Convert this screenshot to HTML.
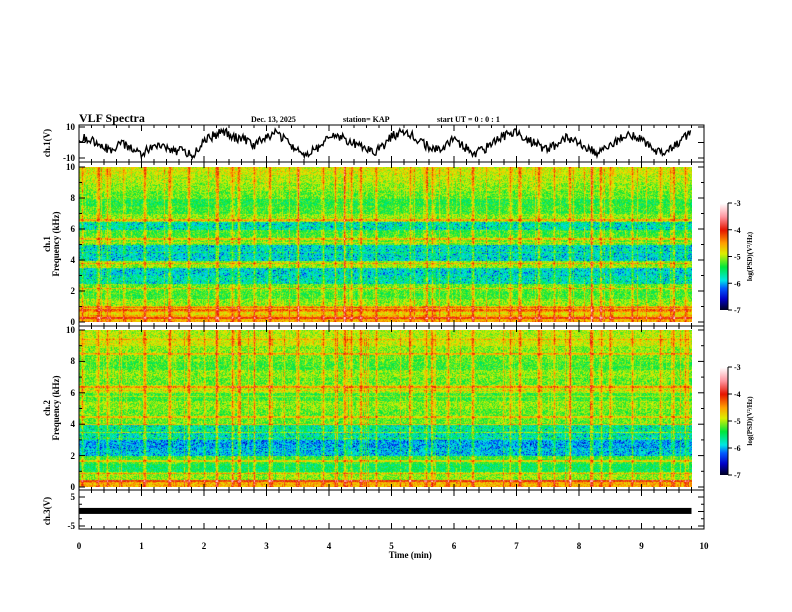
<!DOCTYPE html>
<html><head><meta charset="utf-8"><style>
body{margin:0;background:#fff;width:792px;height:612px;overflow:hidden;position:relative;font-family:"Liberation Serif",serif}
canvas{position:absolute}
svg{position:absolute;left:0;top:0}
text{font-family:"Liberation Serif",serif;font-weight:bold;fill:#000}
</style></head><body>
<canvas id="spec1" width="613" height="155" style="left:79px;top:167px"></canvas>
<canvas id="spec2" width="613" height="157" style="left:79px;top:330px"></canvas>
<canvas id="cb1" width="8" height="107" style="left:720px;top:203px"></canvas>
<canvas id="cb2" width="8" height="108" style="left:720px;top:367px"></canvas>
<svg id="svg" width="792" height="612"></svg>
<script>
// ---- data ----
const bandFreqs=[0,0.5,1,1.5,2,2.5,3,3.5,4,4.5,5,5.5,6,6.5,7,7.5,8,8.5,9,9.5];
const ch1Bands=[-4.6,-4.8,-5.1,-5.3,-5.2,-5.7,-5.8,-5.1,-5.8,-5.8,-5.2,-5.3,-5.7,-5.1,-5.3,-5.4,-5.2,-5.1,-5.0,-4.9];
const ch2Bands=[-4.6,-5.1,-5.5,-5.3,-5.9,-6.0,-5.7,-5.6,-5.2,-5.2,-5.1,-5.3,-5.0,-5.2,-5.1,-5.3,-5.2,-5.1,-4.9,-5.0];
const ch1Lines=[0.3,0.8,1.0,2.2,3.8,5.4,6.6];
const ch2Lines=[0.4,0.9,1.7,3.5,4.0,4.5,6.4,8.5];
const stripeTimes=[0.05,0.3,0.45,1.05,1.45,1.75,2.2,2.45,2.55,2.8,3.05,3.5,3.9,4.1,4.25,4.35,4.5,4.75,5.3,5.55,5.65,5.9,6.3,6.9,7.05,7.35,7.6,7.85,8.2,8.35,8.5,8.85,9.3,9.5,9.7];
const ch1Wave=[3,2,-1,-3,0,-2,-5,-2,-1,-4,-3,-6,2,4,6,3,2,-1,4,5,1,-3,-5,-2,2,4,1,-1,-4,-3,3,6,4,1,-3,-2,2,-1,-5,-3,1,4,6,2,0,-3,-1,3,1,-2,-5,-1,2,4,3,-2,-5,-3,2,5];
const ch3Level=[0.2];
const xTicks=[0,1,2,3,4,5,6,7,8,9,10];
// ---- scales ----
const X0=79,X1=704;
const xs=t=>X0+(X1-X0)*t/10;
function hash(i,j){let h=(i*374761393+j*668265263)|0;h=(h^(h>>>13))*1274126177|0;return((h^(h>>>16))>>>0)/4294967295;}
const stops=[[-7,[0,0,40]],[-6.6,[0,0,200]],[-6.2,[0,90,255]],[-5.9,[0,230,230]],[-5.4,[0,230,60]],[-4.9,[220,240,0]],[-4.5,[255,160,0]],[-4.0,[230,20,0]],[-3.5,[255,150,160]],[-3,[255,255,255]]];
function cmap(v){if(v<=-7)return stops[0][1];if(v>=-3)return stops[stops.length-1][1];for(let k=1;k<stops.length;k++){if(v<=stops[k][0]){const a=stops[k-1],b=stops[k],f=(v-a[0])/(b[0]-a[0]);return a[1].map((c,i)=>Math.round(c+(b[1][i]-c)*f));}}}
function drawSpec(id,bands,lines,seed){const c=document.getElementById(id),ctx=c.getContext('2d'),W=c.width,H=c.height;const img=ctx.createImageData(W,H);
 const colBoost=[];for(let x=0;x<W;x++){const t=x/(X1-X0)*10;let b=0;for(const s of stripeTimes){const d=Math.abs(t-s);if(d<0.012)b=Math.max(b,0.8);else if(d<0.03)b=Math.max(b,0.3);}const r=hash(x,seed);if(r<0.04)b+=0.6;else if(r<0.12)b+=0.25;colBoost[x]=b;}
 for(let y=0;y<H;y++){const f=10*(1-y/H);const bi=Math.min(19,Math.floor(f/0.5));let base=bands[bi];for(const l of lines)if(Math.abs(f-l)<0.05)base+=0.5;
  const rowN=hash(y,seed+7)<0.05?0.3:0;
  for(let x=0;x<W;x++){let v=base+colBoost[x]*(0.6+0.4*hash(x,y+seed))+rowN+(hash(x*3+seed,y)-0.5)*0.6;if(base<-5.5&&hash(x+11,y*5+seed)<0.15)v-=0.5;const col=cmap(v);const p=(y*W+x)*4;img.data[p]=col[0];img.data[p+1]=col[1];img.data[p+2]=col[2];img.data[p+3]=255;}}
 ctx.putImageData(img,0,0);}
drawSpec('spec1',ch1Bands,ch1Lines,1);drawSpec('spec2',ch2Bands,ch2Lines,2);
function drawCb(id){const c=document.getElementById(id),ctx=c.getContext('2d');for(let y=0;y<c.height;y++){const v=-3-4*y/(c.height-1);const col=cmap(v);ctx.fillStyle=`rgb(${col})`;ctx.fillRect(0,y,c.width,1);}}
drawCb('cb1');drawCb('cb2');
// ---- svg ----
const svg=document.getElementById('svg');const NS='http://www.w3.org/2000/svg';
function el(tag,attrs,parent){const e=document.createElementNS(NS,tag);for(const k in attrs)e.setAttribute(k,attrs[k]);(parent||svg).appendChild(e);return e;}
function txt(s,x,y,size,anchor,name,rot){const e=el('text',{x:x,y:y,'font-size':size,'text-anchor':anchor||'start'});if(rot)e.setAttribute('transform',`rotate(-90 ${x} ${y})`);e.textContent=s;


return e;}
function line(x1,y1,x2,y2,w){return el('line',{x1,y1,x2,y2,stroke:'#000','stroke-width':w||1});}
const panels=[[125,162],[162,326],[326,490],[490,529]];
for(const [t,b] of panels){const r=el('rect',{x:X0,y:t,width:X1-X0,height:b-t,fill:'none',stroke:'#000','stroke-width':1});


 for(let k=0;k<=50;k++){const x=xs(k*0.2),L=k%5==0?6:3;line(x,t,x,t+L);line(x,b,x,b-L);}}
// ch1 waveform
const yW=v=>143.5-v*15.5/10;let d='';const n=ch1Wave.length;for(let i=0;i<n-1;i++){for(let s=0;s<10;s++){const t=(i+s/10)/(n-1)*9.8;const v=1.3*(ch1Wave[i]+(ch1Wave[i+1]-ch1Wave[i])*s/10)+(hash(i*10+s,5)-0.5)*6;d+=(d?'L':'M')+xs(t).toFixed(1)+' '+yW(Math.max(-9.5,Math.min(9.5,v))).toFixed(1);}}
const wp=el('path',{d,fill:'none',stroke:'#000','stroke-width':1.4});


// ch3 bar
const yC=v=>511.5-v*14.5/5;const bar=el('rect',{x:X0,y:yC(ch3Level[0])-3,width:xs(9.8)-X0,height:6,fill:'#000'});


// y ticks
function yTicks(t,b,maj,minor){for(let k=0;k<=minor;k++){const y=b-(b-t)*k/minor;const L=k%(minor/maj)==0?6:3;line(X0,y,X0+L,y);line(X1,y,X1-L,y);}}
yTicks(167,322,5,10);yTicks(330,487,5,10);yTicks(127,158,2,2);yTicks(497,526,2,4);
[[0,322],[2,291],[4,260],[6,229],[8,198],[10,167]].forEach(([v,y])=>txt(String(v),75,y+3,9,'end','ch1-freq-tick'));
[[0,487],[2,456],[4,424],[6,393],[8,361],[10,330]].forEach(([v,y])=>txt(String(v),75,y+3,9,'end','ch2-freq-tick'));
txt('10',75,130,9,'end','ch1-v-tick');txt('-10',75,161,9,'end','ch1-v-tick');
txt('5',75,500,9,'end','ch3-v-tick');txt('-5',75,529,9,'end','ch3-v-tick');
xTicks.forEach(v=>txt(String(v),xs(v),549,9,'middle','x-tick-label'));
txt('Time  (min)',xs(5.3),558,9,'middle','x-axis-title');
txt('ch.1(V)',50,143,9,'middle','ch1-v-title',true);
txt('ch.1',50,244,9,'middle','ch1-label',true);txt('Frequency  (kHz)',59,244,9,'middle','ch1-freq-title',true);
txt('ch.2',50,408,9,'middle','ch2-label',true);txt('Frequency  (kHz)',59,408,9,'middle','ch2-freq-title',true);
txt('ch.3(V)',50,511,9,'middle','ch3-v-title',true);
txt('VLF Spectra',79,122,12,'start','title');
txt('Dec. 13, 2025',251,122,8,'start','date');
txt('station= KAP',343,122,8,'start','station');
txt('start  UT =   0 : 0 : 1',437,122,8,'start','start-time');
[[203,310],[367,475]].forEach(([t,b])=>{line(728,t,728,b);for(let k=0;k<=4;k++){const y=t+(b-t)*k/4;line(728,y,732,y);txt(String(-3-k),734,y+3,8,'start','colorbar-tick');}
 txt('log(PSD)(V\u00b2/Hz)',752,(t+b)/2,7,'middle','colorbar-title',true);});
</script>
</body></html>
